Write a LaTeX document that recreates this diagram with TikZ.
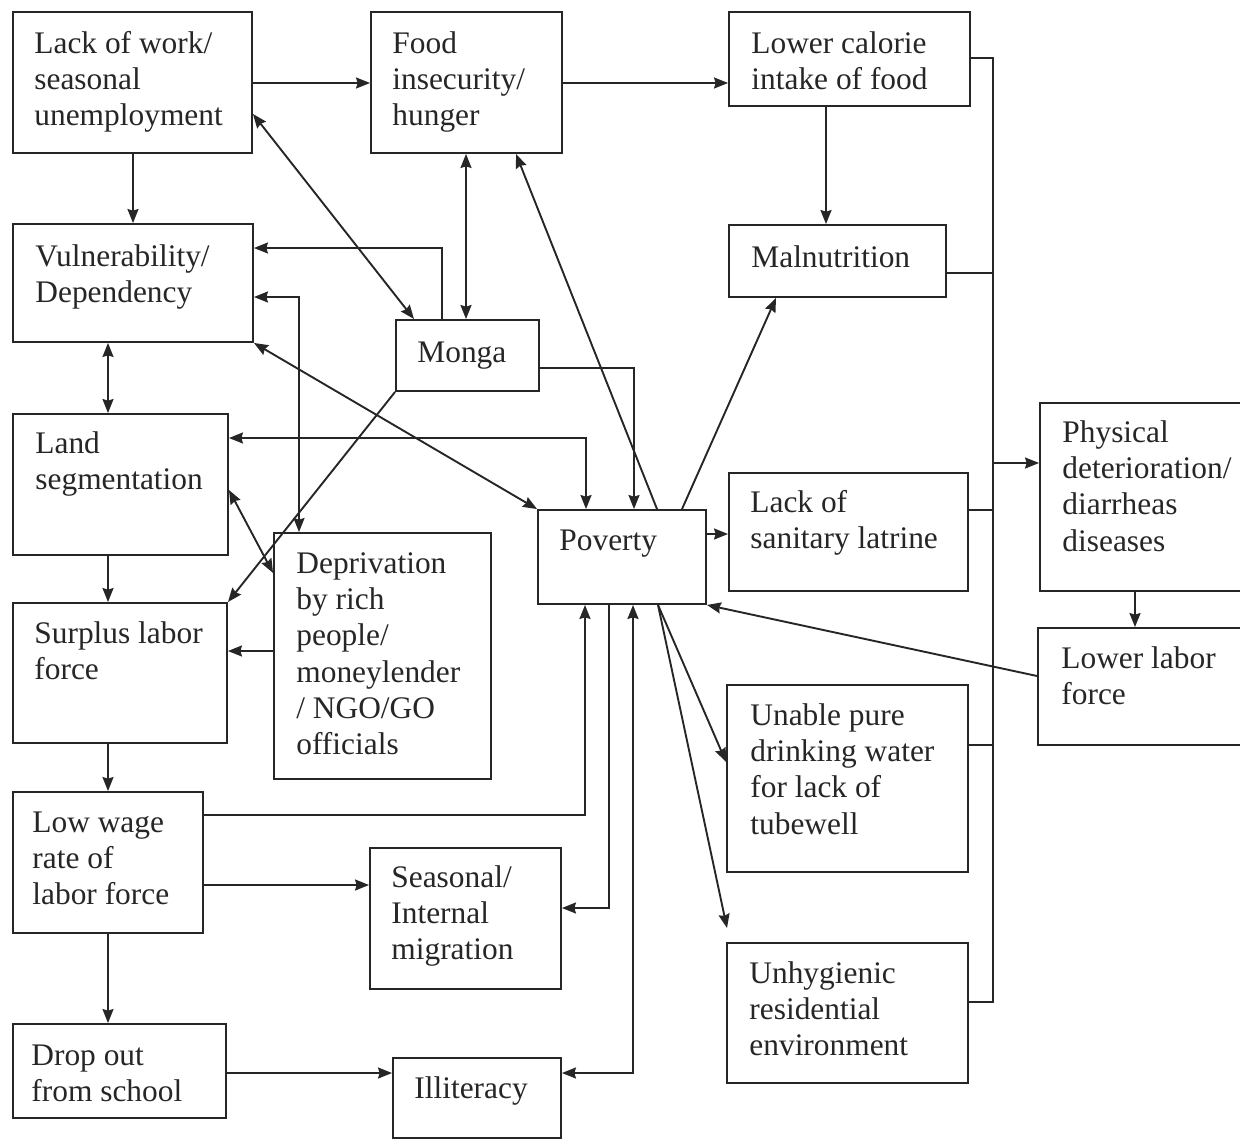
\documentclass[tikz,border=0pt]{standalone}
\usepackage{fontspec}
\setmainfont{Liberation Serif}
\usetikzlibrary{arrows.meta,fit}
\newcommand\mybox[5]{\node[box,fit={(#2,#3) (#4,#5)}] (#1) {};}
\newcommand\mytxt[4]{\node[txt] (#1t) at (#2,#3) {\rule{0pt}{12.5pt}#4};}
\begin{document}
\begin{tikzpicture}[x=0.5pt,y=-0.5pt,
  box/.style={draw=black!85,line width=0.95pt,inner sep=0pt},
  txt/.style={anchor=north west,inner sep=0pt,align=left,
    font=\fontsize{15.7}{18.1}\selectfont,text=black!85},
  con/.style={draw=black!85,line width=0.95pt},
  tip/.tip={Stealth[length=7pt,width=5.5pt,inset=0.8pt]},
  arr/.style={con,-tip},
  darr/.style={con,tip-tip}]
\useasboundingbox (0,0) rectangle (1240,1140);
\clip (0,0) rectangle (1240,1140);

% boxes
\mybox{lack}{13}{12}{252}{153}
\mybox{food}{371}{12}{562}{153}
\mybox{cal}{729}{12}{970}{106}
\mybox{vul}{13}{224}{253}{342}
\mybox{mal}{729}{225}{946}{297}
\mybox{monga}{396}{320}{539}{391}
\mybox{land}{13}{414}{228}{555}
\mybox{pov}{538}{510}{706}{604}
\mybox{lat}{729}{473}{968}{591}
\mybox{phys}{1040}{403}{1260}{591}
\mybox{dep}{274}{533}{491}{779}
\mybox{sur}{13}{603}{227}{743}
\mybox{lab}{1038}{628}{1260}{745}
\mybox{wat}{727}{685}{968}{872}
\mybox{low}{13}{792}{203}{933}
\mybox{mig}{370}{848}{561}{989}
\mybox{hyg}{727}{943}{968}{1083}
\mybox{drop}{13}{1024}{226}{1118}
\mybox{ill}{393}{1058}{561}{1138}

% texts
\mytxt{lack}{34}{28}{Lack of work/\\seasonal\\unemployment}
\mytxt{food}{392}{28}{Food\\insecurity/\\hunger}
\mytxt{cal}{751}{28}{Lower calorie\\intake of food}
\mytxt{vul}{35}{241}{Vulnerability/\\Dependency}
\mytxt{mal}{751}{242}{Malnutrition}
\mytxt{monga}{417}{337}{Monga}
\mytxt{land}{35}{428}{Land\\segmentation}
\mytxt{pov}{559}{525}{Poverty}
\mytxt{lat}{750}{487}{Lack of\\sanitary latrine}
\mytxt{phys}{1062}{417}{Physical\\deterioration/\\diarrheas\\diseases}
\mytxt{dep}{296}{548}{Deprivation\\by rich\\people/\\moneylender\\/ NGO/GO\\officials}
\mytxt{sur}{34}{618}{Surplus labor\\force}
\mytxt{lab}{1061}{643}{Lower labor\\force}
\mytxt{wat}{750}{700}{Unable pure\\drinking water\\for lack of\\tubewell}
\mytxt{low}{32}{807}{Low wage\\rate of\\labor force}
\mytxt{mig}{391}{862}{Seasonal/\\Internal\\migration}
\mytxt{hyg}{749}{958}{Unhygienic\\residential\\environment}
\mytxt{drop}{31}{1040}{Drop out\\from school}
\mytxt{ill}{414}{1073}{Illiteracy}

% connectors
\draw[arr] (lack.east |- 0,83) -- (food.west |- 0,83);
\draw[arr] (food.east |- 0,83) -- (cal.west |- 0,83);
\draw[arr] (cal.south -| 826,0) -- (mal.north -| 826,0);
\draw[arr] (lack.south -| 133,0) -- (vul.north -| 133,0);
\draw[darr] (lack.east |- 0,114) -- (monga.north -| 414,0);
\draw[darr] (food.south -| 466,0) -- (monga.north -| 466,0);
\draw[arr] (pov.north -| 657,0) -- (food.south -| 516,0);
\draw[arr] (pov.north -| 682,0) -- (mal.south -| 776,0);
\draw[arr] (monga.north -| 442,0) |- (vul.east |- 0,248);
\draw[darr] (dep.north -| 299,0) |- (vul.east |- 0,297);
\draw[darr] (vul.south east) -- (pov.north west);
\draw[darr] (vul.south -| 108,0) -- (land.north -| 108,0);
\draw[arr] (monga.south west) -- (sur.north east);
\draw[arr] (monga.east |- 0,368) -| (pov.north -| 634,0);
\draw[darr] (land.east |- 0,438) -| (pov.north -| 586,0);
\draw[darr] (land.east |- 0,490) -- (dep.west |- 0,573);
\draw[arr] (dep.west |- 0,651) -- (sur.east |- 0,651);
\draw[arr] (land.south -| 108,0) -- (sur.north -| 108,0);
\draw[arr] (sur.south -| 108,0) -- (low.north -| 108,0);
\draw[arr] (low.east |- 0,815) -| (pov.south -| 585,0);
\draw[arr] (low.east |- 0,885) -- (mig.west |- 0,885);
\draw[arr] (pov.south -| 609,0) |- (mig.east |- 0,908);
\draw[arr] (low.south -| 108,0) -- (drop.north -| 108,0);
\draw[arr] (drop.east |- 0,1073) -- (ill.west |- 0,1073);
\draw[darr] (ill.east |- 0,1073) -| (pov.south -| 633,0);
\draw[arr] (pov.east |- 0,534) -- (lat.west |- 0,534);
\draw[arr] (pov.south -| 658,0) -- (wat.west |- 0,762);
\coordinate (hygtip) at (727,928);
\draw[arr] (pov.south -| 658,0) -- (hygtip);
\draw[arr] (lab.west |- 0,676) -- (pov.south east);
\draw[arr] (phys.south -| 1135,0) -- (lab.north -| 1135,0);

% right-hand collector line
\coordinate (bustop) at (993,58);
\coordinate (busbot) at (993,1002);
\draw[con] (cal.east |- bustop) -- (bustop) -- (busbot) -- (hyg.east |- busbot);
\draw[con] (mal.east |- 0,273) -- (bustop |- 0,273);
\draw[con] (lat.east |- 0,510) -- (bustop |- 0,510);
\draw[con] (wat.east |- 0,745) -- (bustop |- 0,745);
\draw[arr] (bustop |- 0,463) -- (phys.west |- 0,463);
\end{tikzpicture}
\end{document}
